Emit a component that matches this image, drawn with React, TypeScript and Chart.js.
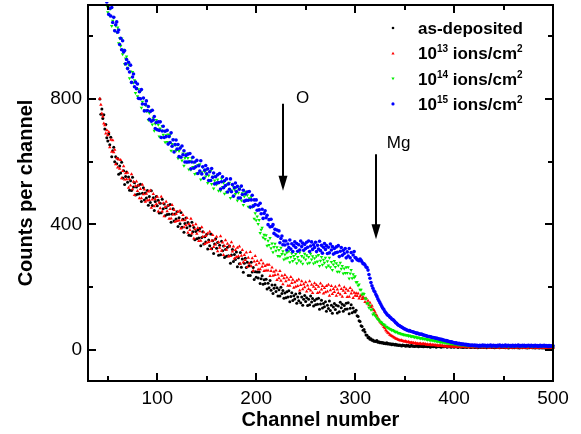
import React, { useEffect, useRef } from "react";
import { Chart, registerables } from "chart.js";

Chart.register(...registerables);

// One value per channel: channels 42, 43, ..., 500
const CHANNEL_START = 42;
const CHANNEL_STEP = 1;

const asDeposited = [
  800, 751, 768, 738, 750, 704, 719, 676,
  666, 688, 654, 678, 616, 635, 646, 600, 616, 593,
  610, 560, 586, 564, 598, 548, 571, 527, 553, 567,
  534, 551, 509, 539, 508, 550, 519, 533, 494, 519,
  496, 525, 498, 528, 473, 499, 517, 478, 500, 484,
  508, 461, 489, 470, 507, 460, 485, 444, 473, 489,
  459, 477, 436, 467, 437, 480, 450, 465, 427, 453,
  431, 460, 432, 463, 407, 433, 450, 411, 433, 417,
  440, 393, 421, 402, 438, 391, 416, 375, 403, 420,
  389, 406, 365, 395, 364, 407, 376, 390, 351, 377,
  354, 383, 356, 387, 332, 358, 376, 337, 360, 344,
  368, 321, 350, 332, 369, 322, 348, 307, 337, 354,
  324, 342, 301, 333, 303, 346, 316, 331, 294, 320,
  298, 327, 300, 331, 276, 302, 320, 281, 304, 288,
  312, 265, 293, 274, 310, 263, 289, 247, 276, 292,
  262, 279, 237, 268, 237, 279, 248, 262, 224, 249,
  231, 248, 229, 248, 211, 226, 236, 209, 223, 211,
  225, 194, 212, 198, 221, 190, 206, 179, 196, 206,
  186, 198, 171, 191, 171, 199, 179, 189, 164, 181,
  166, 185, 168, 188, 153, 170, 182, 157, 172, 162,
  178, 148, 168, 156, 180, 150, 168, 142, 161, 173,
  154, 166, 141, 161, 143, 171, 152, 163, 139, 157,
  143, 162, 145, 164, 129, 146, 158, 133, 147, 137,
  153, 123, 142, 131, 155, 125, 142, 116, 136, 147,
  128, 142, 117, 139, 121, 151, 134, 145, 123, 141,
  129, 148, 130, 150, 115, 132, 143, 118, 133, 122,
  120, 126, 108, 106, 92, 90, 76, 74, 62, 64,
  56, 47, 46, 38, 40, 33, 35, 30, 31, 27,
  28, 26, 29, 24, 25, 22, 24, 21, 23, 20,
  21, 19, 22, 18, 20, 17, 19, 16, 18, 17,
  15, 17, 14, 16, 13, 15, 14, 12, 15, 13,
  13, 11, 14, 12, 13, 10, 12, 14, 11, 12,
  10, 12, 11, 13, 9, 11, 12, 10, 11, 9,
  11, 10, 12, 9, 10, 12, 8, 11, 10, 9,
  10, 11, 8, 10, 12, 9, 10, 8, 11, 9,
  9, 11, 10, 8, 10, 9, 11, 8, 9, 10,
  8, 10, 9, 11, 7, 9, 10, 8, 9, 7,
  9, 8, 10, 7, 9, 11, 8, 7, 9, 8,
  10, 7, 8, 9, 6, 8, 10, 7, 9, 8,
  7, 9, 8, 6, 9, 7, 8, 10, 7, 8,
  8, 6, 9, 7, 8, 10, 6, 8, 7, 9,
  7, 8, 6, 9, 7, 5, 8, 7, 9, 6,
  8, 6, 7, 9, 6, 8, 5, 7, 8, 6,
  7, 9, 6, 7, 5, 8, 6, 9, 7, 6,
  6, 8, 5, 7, 6, 8, 5, 6, 7, 5,
  7, 5, 6, 8, 5, 7, 6, 4, 6, 5,
  6,
];

const ions1e13 = [
  801, 782, 754, 744, 722, 716, 690, 700,
  684, 695, 646, 670, 632, 668, 630, 638, 592, 611,
  581, 607, 577, 605, 547, 570, 585, 543, 563, 544,
  565, 517, 544, 524, 560, 512, 536, 494, 522, 537,
  506, 524, 483, 513, 483, 526, 496, 511, 472, 498,
  476, 505, 478, 508, 453, 479, 497, 458, 480, 464,
  488, 441, 470, 451, 488, 441, 467, 426, 455, 472,
  442, 460, 418, 449, 419, 462, 431, 446, 408, 433,
  411, 440, 412, 443, 387, 413, 430, 391, 413, 397,
  420, 373, 401, 382, 418, 371, 397, 355, 384, 400,
  370, 388, 347, 378, 348, 391, 360, 375, 337, 363,
  341, 371, 344, 376, 321, 348, 366, 328, 351, 336,
  360, 314, 343, 325, 362, 316, 342, 302, 331, 349,
  319, 338, 297, 329, 299, 343, 313, 329, 291, 318,
  296, 325, 298, 329, 274, 300, 318, 279, 302, 286,
  310, 264, 293, 275, 312, 266, 292, 252, 281, 299,
  271, 283, 256, 276, 257, 285, 265, 275, 251, 267,
  253, 271, 253, 271, 235, 251, 262, 236, 249, 238,
  253, 222, 240, 228, 251, 220, 236, 209, 228, 238,
  218, 230, 204, 223, 204, 232, 213, 223, 198, 215,
  201, 220, 203, 224, 189, 206, 218, 193, 209, 199,
  215, 186, 205, 194, 218, 189, 207, 181, 201, 212,
  194, 206, 181, 201, 183, 211, 192, 203, 179, 197,
  183, 203, 186, 207, 172, 190, 203, 178, 194, 184,
  201, 172, 192, 181, 205, 176, 194, 169, 188, 199,
  181, 193, 168, 188, 169, 197, 179, 189, 165, 182,
  172, 180, 171, 179, 163, 170, 174, 162, 168, 163,
  152, 164, 148, 156, 142, 150, 136, 140, 130, 126,
  120, 112, 108, 100, 96, 90, 86, 82, 78, 72,
  68, 62, 58, 54, 52, 48, 46, 44, 42, 40,
  38, 36, 34, 33, 31, 30, 29, 30, 28, 27,
  26, 27, 25, 24, 25, 23, 22, 23, 21, 22,
  20, 21, 19, 20, 18, 19, 20, 17, 18, 19,
  17, 18, 16, 17, 15, 16, 17, 14, 16, 15,
  14, 15, 13, 14, 12, 13, 14, 12, 13, 11,
  12, 10, 11, 12, 9, 11, 10, 12, 9, 10,
  10, 9, 11, 8, 10, 9, 11, 8, 10, 9,
  9, 10, 8, 11, 9, 7, 10, 9, 8, 10,
  8, 10, 9, 7, 10, 8, 9, 11, 7, 9,
  9, 7, 10, 8, 9, 6, 8, 10, 7, 9,
  8, 9, 7, 10, 8, 6, 9, 7, 8, 10,
  7, 9, 8, 6, 9, 8, 7, 10, 6, 8,
  9, 7, 8, 6, 9, 7, 10, 6, 8, 7,
  8, 6, 9, 7, 5, 8, 7, 9, 6, 8,
  7, 9, 6, 8, 7, 5, 8, 6, 9, 7,
  6, 8, 7, 5, 8, 6, 7, 9, 5, 7,
  6,
];

const ions1e14 = [
  1235, 1218, 1196, 1170, 1152, 1130, 1115, 1098,
  1077, 1097, 1066, 1088, 1033, 1050, 1060, 1019, 1034, 1013,
  1028, 978, 994, 969, 993, 943, 957, 912, 929, 936,
  900, 910, 866, 888, 854, 886, 852, 860, 819, 835,
  809, 831, 802, 825, 772, 791, 803, 764, 780, 761,
  778, 733, 755, 734, 764, 719, 739, 699, 721, 733,
  703, 718, 680, 706, 677, 714, 686, 699, 662, 684,
  663, 687, 660, 686, 635, 656, 670, 633, 652, 635,
  654, 611, 634, 616, 647, 604, 626, 587, 612, 625,
  597, 612, 575, 602, 574, 611, 583, 597, 561, 584,
  563, 589, 564, 592, 543, 566, 582, 547, 568, 553,
  574, 532, 556, 539, 571, 529, 552, 514, 540, 554,
  527, 543, 507, 535, 507, 546, 519, 533, 498, 522,
  502, 529, 504, 533, 484, 508, 524, 490, 511, 497,
  518, 476, 501, 485, 518, 476, 499, 462, 489, 504,
  477, 493, 456, 483, 454, 488, 455, 461, 418, 435,
  413, 425, 401, 414, 372, 383, 389, 358, 367, 353,
  365, 332, 348, 334, 356, 324, 339, 311, 328, 338,
  316, 327, 299, 318, 298, 325, 305, 314, 288, 304,
  291, 310, 293, 314, 279, 296, 308, 283, 299, 289,
  305, 276, 296, 285, 310, 281, 299, 274, 294, 306,
  288, 301, 275, 296, 277, 306, 288, 298, 275, 292,
  279, 298, 281, 302, 267, 284, 296, 271, 287, 277,
  293, 263, 282, 269, 293, 263, 280, 254, 272, 283,
  264, 276, 249, 269, 249, 277, 258, 267, 243, 259,
  245, 263, 245, 263, 227, 243, 254, 228, 241, 230,
  234, 215, 216, 205, 208, 191, 191, 176, 179, 178,
  164, 162, 147, 148, 134, 141, 127, 128, 112, 116,
  110, 106, 100, 98, 94, 90, 88, 86, 82, 80,
  78, 74, 72, 70, 68, 66, 65, 62, 63, 60,
  58, 56, 57, 54, 53, 52, 51, 50, 49, 48,
  48, 47, 46, 46, 44, 45, 43, 42, 43, 41,
  40, 41, 39, 38, 39, 37, 36, 37, 35, 36,
  34, 35, 33, 32, 33, 31, 30, 31, 29, 30,
  28, 29, 27, 26, 27, 25, 24, 25, 23, 24,
  22, 23, 21, 22, 20, 21, 19, 20, 18, 19,
  18, 17, 19, 16, 17, 15, 17, 14, 16, 15,
  14, 16, 13, 15, 12, 14, 13, 15, 12, 13,
  14, 12, 13, 15, 11, 13, 12, 14, 11, 13,
  12, 14, 11, 13, 12, 10, 14, 12, 13, 11,
  13, 11, 14, 12, 10, 13, 12, 14, 11, 12,
  12, 14, 11, 13, 12, 10, 13, 11, 14, 12,
  11, 13, 12, 10, 14, 12, 11, 13, 10, 12,
  13, 11, 12, 14, 10, 12, 13, 11, 12, 10,
  12, 10, 13, 11, 12, 14, 10, 12, 11, 13,
  11, 13, 10, 12, 11, 13, 12, 10, 11, 12,
  11,
];

const ions1e15 = [
  1255, 1230, 1210, 1184, 1166, 1144, 1126, 1110,
  1118, 1070, 1089, 1065, 1092, 1044, 1061, 1018, 1037, 1046,
  1013, 1020, 974, 994, 957, 986, 950, 955, 912, 926,
  897, 917, 886, 908, 853, 870, 880, 839, 854, 833,
  848, 802, 823, 801, 830, 784, 803, 762, 783, 794,
  763, 776, 735, 760, 729, 764, 733, 744, 706, 725,
  702, 727, 700, 727, 677, 698, 713, 677, 697, 680,
  700, 656, 680, 661, 692, 649, 670, 631, 655, 669,
  640, 655, 616, 643, 614, 650, 622, 635, 599, 620,
  599, 624, 599, 626, 577, 599, 614, 579, 599, 584,
  604, 562, 587, 570, 603, 561, 584, 547, 573, 588,
  561, 577, 540, 568, 540, 578, 550, 564, 529, 552,
  532, 558, 533, 562, 513, 536, 552, 517, 539, 524,
  545, 503, 529, 512, 545, 504, 527, 490, 517, 532,
  505, 521, 484, 512, 484, 522, 495, 509, 474, 497,
  477, 503, 477, 505, 455, 478, 493, 458, 478, 463,
  478, 445, 461, 446, 467, 434, 448, 419, 435, 443,
  421, 429, 399, 415, 392, 416, 393, 399, 371, 384,
  366, 382, 362, 379, 341, 355, 363, 335, 347, 334,
  347, 318, 337, 326, 350, 321, 338, 313, 332, 344,
  326, 339, 314, 335, 318, 347, 329, 340, 317, 336,
  323, 343, 327, 347, 313, 331, 344, 320, 335, 326,
  343, 313, 333, 321, 346, 316, 333, 308, 327, 339,
  320, 332, 307, 327, 309, 337, 318, 329, 305, 323,
  309, 328, 311, 332, 297, 314, 326, 301, 317, 307,
  323, 293, 312, 299, 323, 293, 310, 284, 302, 313,
  294, 292, 287, 286, 284, 289, 285, 280, 274, 274,
  270, 264, 262, 254, 240, 228, 214, 204, 196, 188,
  184, 176, 170, 162, 156, 150, 144, 138, 132, 128,
  122, 118, 114, 110, 108, 104, 102, 98, 96, 94,
  90, 86, 84, 80, 78, 76, 74, 72, 70, 68,
  66, 65, 63, 62, 60, 61, 59, 58, 57, 56,
  55, 54, 52, 53, 51, 50, 49, 50, 48, 47,
  46, 45, 44, 43, 42, 42, 41, 40, 39, 39,
  38, 37, 36, 36, 35, 34, 33, 33, 32, 31,
  30, 29, 29, 28, 27, 26, 25, 25, 24, 23,
  22, 21, 22, 20, 19, 20, 18, 19, 17, 18,
  17, 16, 17, 15, 16, 14, 15, 13, 15, 14,
  13, 15, 12, 14, 13, 11, 14, 12, 13, 15,
  12, 14, 13, 11, 14, 12, 13, 15, 11, 13,
  14, 12, 13, 11, 14, 12, 15, 13, 11, 14,
  12, 13, 15, 11, 13, 14, 12, 13, 11, 14,
  13, 11, 14, 12, 13, 15, 11, 13, 12, 14,
  12, 14, 11, 13, 12, 14, 13, 11, 14, 12,
  13, 11, 14, 12, 13, 10, 12, 14, 11, 13,
  12, 14, 11, 13, 12, 10, 13, 11, 12, 11,
  12,
];

const seriesLabels = [
  "as-deposited",
  "10^{13} ions/cm^{2}",
  "10^{14} ions/cm^{2}",
  "10^{15} ions/cm^{2}",
];
const seriesColors = ["#000000", "#ff0000", "#00ee00", "#0000ff"];

const X_MIN = 30;
const X_MAX = 500;
const Y_MIN = -100;
const Y_MAX = 1100;
const xTickValues = [50, 100, 150, 200, 250, 300, 350, 400, 450, 500];
const xLabelValues = [100, 200, 300, 400, 500];
const yTickValues = [0, 200, 400, 600, 800, 1000];
const yLabelValues = [0, 400, 800];

// Element annotations: label position and arrow (data coordinates)
const annotationLabels = ["O", "Mg"];
const annotationLabelX = [247, 344];
const annotationLabelY = [801, 657];
const arrowX = [227, 321];
const arrowTop = [785, 624];
const arrowTip = [507, 352];

const FONT = "'Liberation Sans', Arial, Helvetica, sans-serif";

function toXY(values: number[]) {
  return values.map((v, i) => ({ x: CHANNEL_START + i * CHANNEL_STEP, y: v }));
}

function parseRich(label: string) {
  const parts: { text: string; sup: boolean }[] = [];
  const re = /\^\{([^}]*)\}/g;
  let last = 0;
  let m: RegExpExecArray | null;
  while ((m = re.exec(label))) {
    if (m.index > last) parts.push({ text: label.slice(last, m.index), sup: false });
    parts.push({ text: m[1], sup: true });
    last = m.index + m[0].length;
  }
  if (last < label.length) parts.push({ text: label.slice(last), sup: false });
  return parts;
}

function drawMarker(ctx: CanvasRenderingContext2D, kind: number, x: number, y: number, r: number) {
  ctx.beginPath();
  if (kind === 1) {
    ctx.moveTo(x, y - r);
    ctx.lineTo(x + r, y + r * 0.7);
    ctx.lineTo(x - r, y + r * 0.7);
    ctx.closePath();
  } else if (kind === 2) {
    ctx.moveTo(x, y + r);
    ctx.lineTo(x + r, y - r * 0.7);
    ctx.lineTo(x - r, y - r * 0.7);
    ctx.closePath();
  } else {
    ctx.arc(x, y, r, 0, Math.PI * 2);
  }
  ctx.fill();
}

const framePlugin = {
  id: "frameTicks",
  afterDraw(chart: any) {
    const { ctx, chartArea, scales } = chart;
    const { left, right, top, bottom } = chartArea;
    const xs = scales.x;
    const ys = scales.y;
    ctx.save();
    ctx.strokeStyle = "#000";
    ctx.lineWidth = 2;
    ctx.strokeRect(left, top, right - left, bottom - top);
    ctx.beginPath();
    for (const v of xTickValues) {
      const px = Math.round(xs.getPixelForValue(v));
      const len = v % 100 === 0 ? 8 : 5;
      ctx.moveTo(px, bottom);
      ctx.lineTo(px, bottom - len);
      ctx.moveTo(px, top);
      ctx.lineTo(px, top + len);
    }
    for (const v of yTickValues) {
      const py = Math.round(ys.getPixelForValue(v));
      const len = v % 400 === 0 ? 8 : 5;
      ctx.moveTo(left, py);
      ctx.lineTo(left + len, py);
      ctx.moveTo(right, py);
      ctx.lineTo(right - len, py);
    }
    ctx.stroke();

    // annotations
    ctx.fillStyle = "#000";
    ctx.font = `17px ${FONT}`;
    ctx.textAlign = "center";
    ctx.textBaseline = "middle";
    annotationLabels.forEach((t, i) => {
      ctx.fillText(t, xs.getPixelForValue(annotationLabelX[i]), ys.getPixelForValue(annotationLabelY[i]));
      const ax = Math.round(xs.getPixelForValue(arrowX[i]));
      const y0 = ys.getPixelForValue(arrowTop[i]);
      const y1 = ys.getPixelForValue(arrowTip[i]);
      const headH = 15;
      const headW = 4.5;
      ctx.beginPath();
      ctx.lineWidth = 2;
      ctx.moveTo(ax, y0);
      ctx.lineTo(ax, y1 - headH + 2);
      ctx.stroke();
      ctx.beginPath();
      ctx.moveTo(ax, y1);
      ctx.lineTo(ax - headW, y1 - headH);
      ctx.lineTo(ax + headW, y1 - headH);
      ctx.closePath();
      ctx.fill();
    });

    // legend
    const markerX = 393;
    const textX = 418;
    const baseline0 = 34;
    const spacing = 25.3;
    seriesLabels.forEach((label, i) => {
      const by = baseline0 + i * spacing;
      ctx.fillStyle = seriesColors[i];
      drawMarker(ctx, i, markerX, by - 6, i === 0 ? 1.3 : 1.6);
      ctx.fillStyle = "#000";
      ctx.textAlign = "left";
      ctx.textBaseline = "alphabetic";
      let cx = textX;
      for (const p of parseRich(label)) {
        if (p.sup) {
          ctx.font = `bold 10px ${FONT}`;
          ctx.fillText(p.text, cx, by - 7);
        } else {
          ctx.font = `bold 17px ${FONT}`;
          ctx.fillText(p.text, cx, by);
        }
        cx += ctx.measureText(p.text).width;
      }
    });
    ctx.restore();
  },
};

export default function App() {
  const canvasRef = useRef<HTMLCanvasElement | null>(null);

  useEffect(() => {
    const canvas = canvasRef.current;
    if (!canvas) return;
    const all = [asDeposited, ions1e13, ions1e14, ions1e15];
    const styles = [
      { pointStyle: "circle", radius: 1.5, rotation: 0 },
      { pointStyle: "triangle", radius: 2.0, rotation: 0 },
      { pointStyle: "triangle", radius: 2.0, rotation: 180 },
      { pointStyle: "circle", radius: 1.8, rotation: 0 },
    ];
    const chart = new Chart(canvas, {
      type: "scatter",
      data: {
        datasets: all.map((vals, i) => ({
          label: seriesLabels[i],
          data: toXY(vals),
          backgroundColor: seriesColors[i],
          borderColor: seriesColors[i],
          borderWidth: 0,
          pointStyle: styles[i].pointStyle as any,
          pointRadius: styles[i].radius,
          pointRotation: styles[i].rotation,
          order: 4 - i,
          clip: 3,
        })),
      },
      options: {
        responsive: false,
        animation: false,
        devicePixelRatio: 1,
        layout: { padding: { left: 0, right: 28, top: 5, bottom: 0 } },
        plugins: {
          legend: { display: false },
          tooltip: { enabled: false },
        },
        scales: {
          x: {
            type: "linear",
            min: X_MIN,
            max: X_MAX,
            grid: { display: false, drawTicks: false },
            border: { display: false },
            afterBuildTicks: (scale: any) => {
              scale.ticks = xLabelValues.map((v) => ({ value: v }));
            },
            ticks: {
              color: "#000",
              font: { family: FONT, size: 19 },
              padding: 6,
              maxRotation: 0,
              autoSkip: false,
              callback: (v: any) => String(v),
            },
            title: {
              display: true,
              text: "Channel number",
              color: "#000",
              font: { family: FONT, size: 20, weight: "bold" },
              padding: { top: 0, bottom: 2 },
            },
            afterFit: (scale: any) => {
              scale.height = 53;
              scale.paddingLeft = 0;
              scale.paddingRight = 0;
            },
          },
          y: {
            type: "linear",
            min: Y_MIN,
            max: Y_MAX,
            grid: { display: false, drawTicks: false },
            border: { display: false },
            afterBuildTicks: (scale: any) => {
              scale.ticks = yLabelValues.map((v) => ({ value: v }));
            },
            ticks: {
              color: "#000",
              font: { family: FONT, size: 19 },
              padding: 6,
              autoSkip: false,
              callback: (v: any) => String(v),
            },
            title: {
              display: true,
              text: "Counts per channel",
              color: "#000",
              font: { family: FONT, size: 20, weight: "bold" },
              padding: { top: 14, bottom: 0 },
            },
            afterFit: (scale: any) => {
              scale.width = 88;
              scale.paddingTop = 0;
              scale.paddingBottom = 0;
            },
          },
        },
      },
      plugins: [framePlugin],
    });
    return () => chart.destroy();
  }, []);

  return (
    <div style={{ position: "fixed", left: 0, top: 0, width: 581, height: 434, background: "#fff" }}>
      <canvas ref={canvasRef} width={581} height={434} style={{ display: "block" }} />
    </div>
  );
}
